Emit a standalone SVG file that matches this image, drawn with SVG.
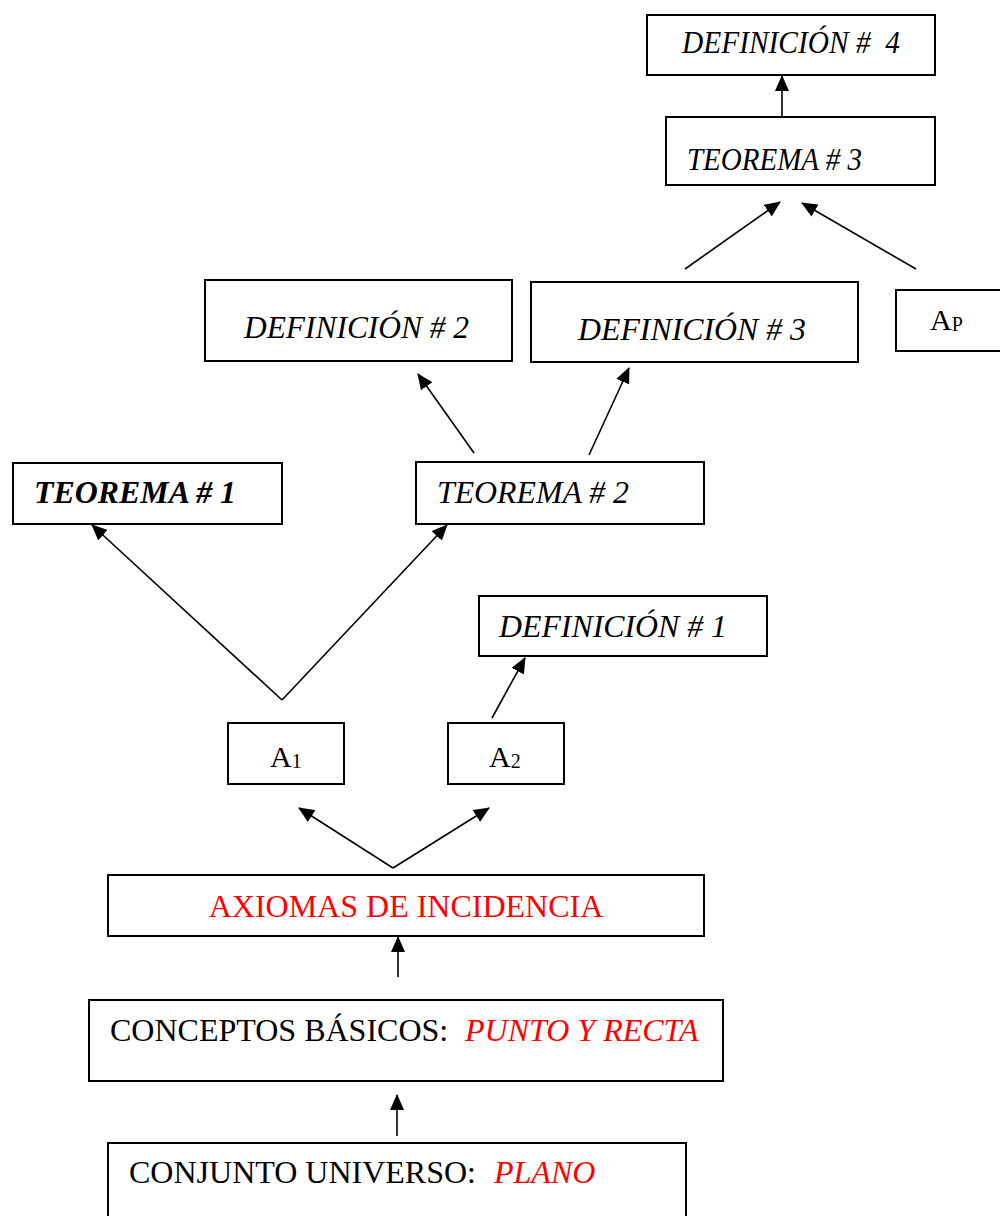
<svg xmlns="http://www.w3.org/2000/svg" width="1000" height="1216" viewBox="0 0 1000 1216">
  <style>
    .box { fill: #ffffff; stroke: #000000; stroke-width: 2; }
    .lbl { font-family: "Liberation Serif", "Times New Roman", serif; font-size: 32px; fill: #000000; }
    .it { font-style: italic; }
    .bi { font-style: italic; font-weight: bold; }
    .red { fill: #ff0000; }
    .sub { font-size: 20px; }
    .edge { stroke: #000000; stroke-width: 1.6; fill: none; }
  </style>
  <defs>
    <marker id="arrow" markerUnits="userSpaceOnUse" markerWidth="16" markerHeight="14" refX="15" refY="7" orient="auto">
      <path d="M0,0 L16,7 L0,14 Z" fill="#000000"/>
    </marker>
  </defs>
  <rect width="1000" height="1216" fill="#ffffff"/>

  <!-- connectors -->
  <g id="connectors">
    <line class="edge" x1="782" y1="117" x2="782" y2="76" marker-end="url(#arrow)"/>
    <line class="edge" x1="685" y1="269" x2="780" y2="202" marker-end="url(#arrow)"/>
    <line class="edge" x1="916" y1="269" x2="802" y2="203" marker-end="url(#arrow)"/>
    <line class="edge" x1="474" y1="453" x2="418" y2="374" marker-end="url(#arrow)"/>
    <line class="edge" x1="589" y1="455" x2="629" y2="368" marker-end="url(#arrow)"/>
    <line class="edge" x1="282" y1="700" x2="92" y2="525" marker-end="url(#arrow)"/>
    <line class="edge" x1="282" y1="700" x2="447" y2="525" marker-end="url(#arrow)"/>
    <line class="edge" x1="492" y1="718" x2="525" y2="658" marker-end="url(#arrow)"/>
    <line class="edge" x1="393" y1="868" x2="299" y2="808" marker-end="url(#arrow)"/>
    <line class="edge" x1="393" y1="868" x2="489" y2="808" marker-end="url(#arrow)"/>
    <line class="edge" x1="398" y1="977" x2="398" y2="937" marker-end="url(#arrow)"/>
    <line class="edge" x1="397" y1="1136" x2="397" y2="1095" marker-end="url(#arrow)"/>
  </g>

  <g id="definicion4">
    <rect class="box" x="647" y="15" width="288" height="60"/>
    <text class="lbl it" x="682" y="53" xml:space="preserve" textLength="218" lengthAdjust="spacingAndGlyphs">DEFINICIÓN #  4</text>
  </g>

  <g id="teorema3">
    <rect class="box" x="666" y="117" width="269" height="68"/>
    <text class="lbl it" x="687" y="170" textLength="175" lengthAdjust="spacingAndGlyphs">TEOREMA # 3</text>
  </g>

  <g id="definicion2">
    <rect class="box" x="205" y="280" width="307" height="81"/>
    <text class="lbl it" x="244" y="338" textLength="225" lengthAdjust="spacingAndGlyphs">DEFINICIÓN # 2</text>
  </g>

  <g id="definicion3">
    <rect class="box" x="531" y="282" width="327" height="80"/>
    <text class="lbl it" x="578" y="340" textLength="228" lengthAdjust="spacingAndGlyphs">DEFINICIÓN # 3</text>
  </g>

  <g id="axioma-p">
    <rect class="box" x="896" y="290" width="110" height="61"/>
    <text class="lbl" x="930" y="330" style="font-size:30px">A<tspan class="sub" dy="1">P</tspan></text>
  </g>

  <g id="teorema1">
    <rect class="box" x="13" y="463" width="269" height="61"/>
    <text class="lbl bi" x="34" y="503" textLength="202" lengthAdjust="spacingAndGlyphs">TEOREMA # 1</text>
  </g>

  <g id="teorema2">
    <rect class="box" x="416" y="462" width="288" height="62"/>
    <text class="lbl it" x="437" y="503" textLength="192" lengthAdjust="spacingAndGlyphs">TEOREMA # 2</text>
  </g>

  <g id="definicion1">
    <rect class="box" x="479" y="596" width="288" height="60"/>
    <text class="lbl it" x="499" y="637" textLength="228" lengthAdjust="spacingAndGlyphs">DEFINICIÓN # 1</text>
  </g>

  <g id="axioma-1">
    <rect class="box" x="228" y="723" width="116" height="61"/>
    <text class="lbl" x="270" y="767" style="font-size:30px">A<tspan class="sub" dy="1">1</tspan></text>
  </g>

  <g id="axioma-2">
    <rect class="box" x="448" y="723" width="116" height="61"/>
    <text class="lbl" x="489" y="767" style="font-size:30px">A<tspan class="sub" dy="1">2</tspan></text>
  </g>

  <g id="axiomas-incidencia">
    <rect class="box" x="108" y="875" width="596" height="61"/>
    <text class="lbl red" x="406" y="917" text-anchor="middle">AXIOMAS DE INCIDENCIA</text>
  </g>

  <g id="conceptos-basicos">
    <rect class="box" x="89" y="1000" width="634" height="81"/>
    <text class="lbl" x="110" y="1041">CONCEPTOS BÁSICOS:<tspan class="it red" x="465">PUNTO Y RECTA</tspan></text>
  </g>

  <g id="conjunto-universo">
    <rect class="box" x="108" y="1143" width="578" height="90"/>
    <text class="lbl" x="129" y="1183">CONJUNTO UNIVERSO:<tspan class="it red" x="494">PLANO</tspan></text>
  </g>
</svg>
